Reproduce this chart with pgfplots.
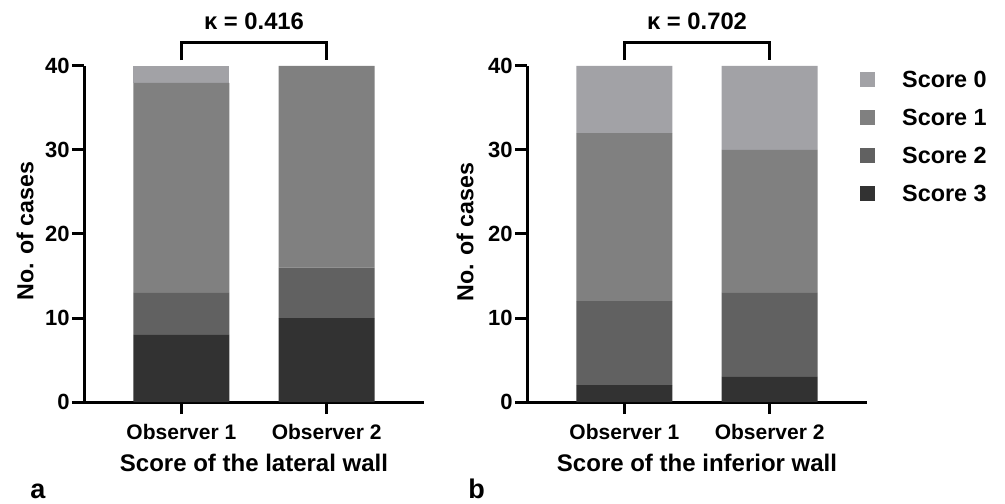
\documentclass[border=0pt]{standalone}
\usepackage{fontspec}
\setmainfont{Liberation Sans}
\usepackage{pgfplots}
\pgfplotsset{compat=1.18}
\definecolor{scA}{RGB}{162,162,166}
\definecolor{scB}{RGB}{128,128,128}
\definecolor{scC}{RGB}{97,97,97}
\definecolor{scD}{RGB}{50,50,50}
\pgfplotsset{
  panel/.style={
    scale only axis, width=170pt, height=168pt,
    anchor=south west,
    ybar stacked, bar width=48pt,
    xmin=0.33, xmax=2.67, ymin=0, ymax=40,
    enlargelimits=false, clip=false,
    axis lines=left,
    axis line style={-, line width=1.5pt, black},
    xtick={1,2}, xticklabels={Observer 1, Observer 2},
    ytick={0,10,20,30,40},
    tick align=outside, major tick length=6pt,
    tick style={line width=1.5pt, black},
    /pgf/number format/assume math mode=true,
    yticklabel style={font=\fontsize{11}{13}\selectfont\bfseries, inner sep=1pt},
    xticklabel style={font=\fontsize{10.5}{12}\selectfont\bfseries, inner sep=0pt, yshift=-5pt},
    xlabel style={font=\fontsize{12}{14}\selectfont\bfseries},
    ylabel style={font=\fontsize{11.6}{14}\selectfont\bfseries, rotate=0},
  },
  every axis plot/.append style={draw=none},
}
\begin{document}
\begin{tikzpicture}
\path[use as bounding box] (0pt,0pt) rectangle (502.5pt,251.5pt);

% Panel a
\begin{axis}[panel, at={(42pt,50.5pt)},
  xlabel={Score of the lateral wall},
  xlabel style={at={(axis description cs:0.5,-0.1815)}, anchor=center},
  ylabel={No. of cases},
  ylabel style={at={(axis description cs:-0.1735,0.509)}, anchor=center},
]
\addplot[fill=scD] coordinates {(1,8) (2,10)};
\addplot[fill=scC] coordinates {(1,5) (2,6)};
\addplot[fill=scB] coordinates {(1,25) (2,24)};
\addplot[fill=scA] coordinates {(1,2) (2,0)};
\draw[line width=1.5pt, black] (axis cs:1,40.71) -- (axis cs:1,42.74) -- (axis cs:2,42.74) -- (axis cs:2,40.71);
\node[font=\fontsize{11.9}{14}\selectfont\bfseries, anchor=center] at (axis cs:1.5,45.36) {κ = 0.416};
\end{axis}

% Panel b
\begin{axis}[panel, at={(263.5pt,50.5pt)},
  xlabel={Score of the inferior wall},
  xlabel style={at={(axis description cs:0.5,-0.1815)}, anchor=center},
  ylabel={No. of cases},
  ylabel style={at={(axis description cs:-0.182,0.506)}, anchor=center},
  reverse legend,
  legend cell align=left,
  legend image code/.code={\fill[#1] (0pt,-3.75pt) rectangle (7.5pt,3.75pt); \path (21pt,0pt);},
  legend style={at={(axis description cs:0.98,0.986)}, anchor=north west, draw=none, fill=none,
    font=\fontsize{11.7}{14}\selectfont\bfseries, inner sep=0pt, outer sep=0pt, row sep=10.6pt,
    nodes={inner sep=0pt, text height=8.4pt, text depth=0pt}},
]
\addplot[fill=scD] coordinates {(1,2) (2,3)};
\addlegendentry{Score 3}
\addplot[fill=scC] coordinates {(1,10) (2,10)};
\addlegendentry{Score 2}
\addplot[fill=scB] coordinates {(1,20) (2,17)};
\addlegendentry{Score 1}
\addplot[fill=scA] coordinates {(1,8) (2,10)};
\addlegendentry{Score 0}
\draw[line width=1.5pt, black] (axis cs:1,40.71) -- (axis cs:1,42.74) -- (axis cs:2,42.74) -- (axis cs:2,40.71);
\node[font=\fontsize{11.9}{14}\selectfont\bfseries, anchor=center] at (axis cs:1.5,45.36) {κ = 0.702};
\end{axis}

\node[anchor=base west, inner sep=0pt, font=\fontsize{13.5}{16}\selectfont\bfseries] at (15pt,2.5pt) {a};
\node[anchor=base west, inner sep=0pt, font=\fontsize{13.5}{16}\selectfont\bfseries] at (234pt,2.5pt) {b};
\end{tikzpicture}
\end{document}
